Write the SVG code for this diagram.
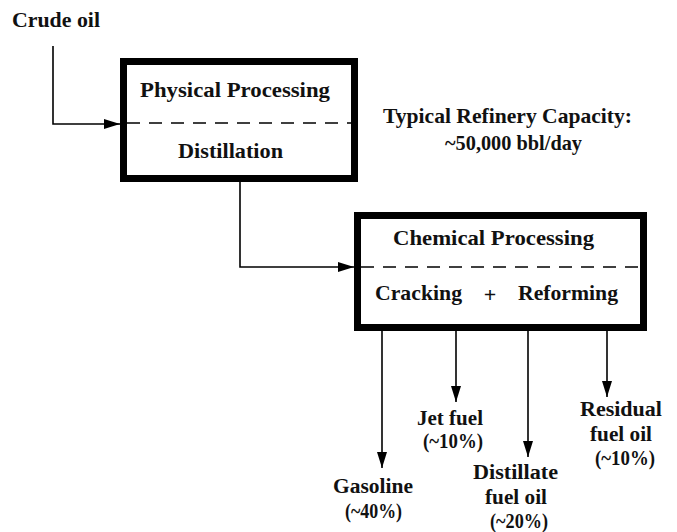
<svg xmlns="http://www.w3.org/2000/svg" width="677" height="532" viewBox="0 0 677 532">
<defs>
<style>
text{font-family:"Liberation Serif","Times New Roman",serif;font-weight:bold;font-size:22px;fill:#111;}
.lab{font-size:20px;}
.box{fill:#fff;stroke:#000;stroke-width:7;}
.dash{stroke:#000;stroke-width:1.6;stroke-dasharray:13 9;fill:none;}
.ln{stroke:#000;stroke-width:1.6;fill:none;}
</style>
<marker id="ah" viewBox="0 0 16 10" refX="16" refY="5" markerWidth="16" markerHeight="10" markerUnits="userSpaceOnUse" orient="auto">
<path d="M0,0 L16,5 L0,10 Z" fill="#000"/>
</marker>
</defs>
<rect width="677" height="532" fill="#fff"/>
<g id="crude-oil">
<text x="12" y="27" textLength="88" lengthAdjust="spacingAndGlyphs">Crude oil</text>
</g>
<g id="physical">
<rect class="box" x="123.5" y="61.5" width="231" height="117"/>
<line class="dash" x1="127" y1="123" x2="351" y2="123"/>
<text x="140" y="97" textLength="190" lengthAdjust="spacingAndGlyphs">Physical Processing</text>
<text x="178" y="158" textLength="105" lengthAdjust="spacingAndGlyphs">Distillation</text>
</g>
<g id="capacity">
<text x="383" y="123" textLength="249" lengthAdjust="spacingAndGlyphs">Typical Refinery Capacity:</text>
<text x="445" y="150" textLength="137" lengthAdjust="spacingAndGlyphs">~50,000 bbl/day</text>
</g>
<g id="chemical">
<rect class="box" x="357.5" y="215.5" width="286" height="112"/>
<line class="dash" x1="361" y1="267" x2="640" y2="267"/>
<text x="393" y="245" textLength="201" lengthAdjust="spacingAndGlyphs">Chemical Processing</text>
<text x="375" y="300" textLength="87" lengthAdjust="spacingAndGlyphs">Cracking</text>
<text x="490" y="302" text-anchor="middle" font-size="19">+</text>
<text x="518" y="300" textLength="100" lengthAdjust="spacingAndGlyphs">Reforming</text>
</g>
<g id="gasoline" class="lab">
<text class="lab" x="333" y="493" textLength="80" lengthAdjust="spacingAndGlyphs">Gasoline</text>
<text class="lab" x="345" y="518" textLength="57" lengthAdjust="spacingAndGlyphs">(~40%)</text>
</g>
<g id="jet-fuel">
<text class="lab" x="417" y="425" textLength="66" lengthAdjust="spacingAndGlyphs">Jet fuel</text>
<text class="lab" x="423" y="448" textLength="60" lengthAdjust="spacingAndGlyphs">(~10%)</text>
</g>
<g id="distillate">
<text class="lab" x="473" y="479" textLength="85" lengthAdjust="spacingAndGlyphs">Distillate</text>
<text class="lab" x="485" y="504" textLength="62" lengthAdjust="spacingAndGlyphs">fuel oil</text>
<text class="lab" x="490" y="528" textLength="58" lengthAdjust="spacingAndGlyphs">(~20%)</text>
</g>
<g id="residual">
<text class="lab" x="580" y="416" textLength="82" lengthAdjust="spacingAndGlyphs">Residual</text>
<text class="lab" x="590" y="441" textLength="62" lengthAdjust="spacingAndGlyphs">fuel oil</text>
<text class="lab" x="595" y="465" textLength="60" lengthAdjust="spacingAndGlyphs">(~10%)</text>
</g>
<g id="connectors">
<polyline class="ln" points="53,46 53,124 120,124" marker-end="url(#ah)"/>
<polyline class="ln" points="240,182 240,267 354,267" marker-end="url(#ah)"/>
<line class="ln" x1="382" y1="331" x2="382" y2="468" marker-end="url(#ah)"/>
<line class="ln" x1="456" y1="331" x2="456" y2="402" marker-end="url(#ah)"/>
<line class="ln" x1="528" y1="331" x2="528" y2="457" marker-end="url(#ah)"/>
<line class="ln" x1="607" y1="331" x2="607" y2="397" marker-end="url(#ah)"/>
</g>
</svg>
